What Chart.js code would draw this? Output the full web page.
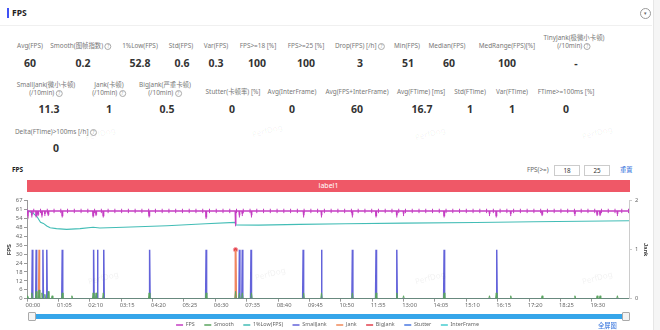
<!DOCTYPE html>
<html><head><meta charset="utf-8">
<script src="https://cdn.jsdelivr.net/npm/chart.js@4.4.1/dist/chart.umd.min.js"></script>
<style>
html,body{margin:0;padding:0;background:#fff;width:660px;height:330px;overflow:hidden;font-family:"Noto Sans","Noto Sans CJK SC",sans-serif;}
#page{position:relative;width:660px;height:330px;}
.abs{position:absolute;white-space:nowrap;}
.lb{position:absolute;transform:translate(-50%,-50%);font-size:6.4px;color:#777;white-space:nowrap;text-align:center;line-height:8px;}
.vl{position:absolute;transform:translate(-50%,-50%);font-size:10.5px;font-weight:bold;color:#333;white-space:nowrap;}
.q{display:inline-block;width:5px;height:5px;border:0.8px solid #aaa;border-radius:50%;font-size:4.5px;line-height:5px;text-align:center;color:#999;vertical-align:middle;margin-left:1.5px;}
.wm{position:absolute;font-size:8px;color:rgba(0,0,0,0.06);transform:translate(-50%,-50%) rotate(-15deg);white-space:nowrap;}
#cv{position:absolute;left:0;top:193px;}
</style></head>
<body><div id="page">
  <!-- header -->
  <div class="abs" style="left:7px;top:8px;width:1.6px;height:10px;background:#3f51f5;"></div>
  <div class="abs" style="left:12px;top:7px;font-size:8.5px;font-weight:bold;color:#222;line-height:12px;">FPS</div>
  <div class="abs" style="left:640px;top:8px;width:9px;height:9px;border:0.8px solid #999;border-radius:50%;font-size:5px;line-height:9px;text-align:center;color:#666;">▾</div>
  <div class="abs" style="left:0;top:25px;width:652px;height:1px;background:#f0f0f0;"></div>
  <div class="abs" style="left:653px;top:0;width:7px;height:330px;background:#f5f5f5;border-left:1px solid #e6e6e6;"></div>

  <!-- stats row 1 -->
  <div class="lb" style="left:30px;top:46px;">Avg(FPS)</div><div class="vl" style="left:30px;top:63px;">60</div>
  <div class="lb" style="left:81px;top:46px;">Smooth(图帧指数)<span class="q">?</span></div><div class="vl" style="left:83px;top:63px;">0.2</div>
  <div class="lb" style="left:140px;top:46px;">1%Low(FPS)</div><div class="vl" style="left:140px;top:63px;">52.8</div>
  <div class="lb" style="left:181px;top:46px;">Std(FPS)</div><div class="vl" style="left:182px;top:63px;">0.6</div>
  <div class="lb" style="left:216px;top:46px;">Var(FPS)</div><div class="vl" style="left:216px;top:63px;">0.3</div>
  <div class="lb" style="left:258px;top:46px;">FPS&gt;=18 [%]</div><div class="vl" style="left:257px;top:63px;">100</div>
  <div class="lb" style="left:306px;top:46px;">FPS&gt;=25 [%]</div><div class="vl" style="left:306px;top:63px;">100</div>
  <div class="lb" style="left:360px;top:46px;">Drop(FPS) [/h]<span class="q">?</span></div><div class="vl" style="left:360px;top:63px;">3</div>
  <div class="lb" style="left:407px;top:46px;">Min(FPS)</div><div class="vl" style="left:408px;top:63px;">51</div>
  <div class="lb" style="left:447px;top:46px;">Median(FPS)</div><div class="vl" style="left:449px;top:63px;">60</div>
  <div class="lb" style="left:507px;top:46px;">MedRange(FPS)[%]</div><div class="vl" style="left:507px;top:63px;">100</div>
  <div class="lb" style="left:574px;top:42px;">TinyJank(极微小卡顿)<br>(/10min)<span class="q">?</span></div><div class="vl" style="left:576px;top:63px;">-</div>

  <!-- stats row 2 -->
  <div class="lb" style="left:46px;top:89px;">SmallJank(微小卡顿)<br>(/10min)<span class="q">?</span></div><div class="vl" style="left:49px;top:109px;">11.3</div>
  <div class="lb" style="left:109px;top:89px;">Jank(卡顿)<br>(/10min)<span class="q">?</span></div><div class="vl" style="left:109px;top:109px;">1</div>
  <div class="lb" style="left:165px;top:89px;">BigJank(严重卡顿)<br>(/10min)<span class="q">?</span></div><div class="vl" style="left:167px;top:109px;">0.5</div>
  <div class="lb" style="left:233px;top:92px;">Stutter(卡顿率) [%]</div><div class="vl" style="left:232px;top:109px;">0</div>
  <div class="lb" style="left:292px;top:92px;">Avg(InterFrame)</div><div class="vl" style="left:292px;top:109px;">0</div>
  <div class="lb" style="left:357px;top:92px;">Avg(FPS+InterFrame)</div><div class="vl" style="left:357px;top:109px;">60</div>
  <div class="lb" style="left:421px;top:92px;">Avg(FTime) [ms]</div><div class="vl" style="left:422px;top:109px;">16.7</div>
  <div class="lb" style="left:470px;top:92px;">Std(FTime)</div><div class="vl" style="left:470px;top:109px;">1</div>
  <div class="lb" style="left:512px;top:92px;">Var(FTime)</div><div class="vl" style="left:512px;top:109px;">1</div>
  <div class="lb" style="left:566px;top:92px;">FTime&gt;=100ms [%]</div><div class="vl" style="left:566px;top:109px;">0</div>

  <!-- stats row 3 -->
  <div class="lb" style="left:56px;top:132px;">Delta(FTime)&gt;100ms [/h]<span class="q">?</span></div><div class="vl" style="left:56px;top:148px;">0</div>

  <!-- watermarks -->
  <div class="wm" style="left:100px;top:133px;">PerfDog</div>
  <div class="wm" style="left:267px;top:130px;">PerfDog</div>
  <div class="wm" style="left:430px;top:133px;">PerfDog</div>
  <div class="wm" style="left:597px;top:132px;">PerfDog</div>

  <!-- chart header -->
  <div class="abs" style="left:12px;top:165px;font-size:6.5px;font-weight:bold;color:#222;line-height:9px;">FPS</div>
  <div class="abs" style="left:527px;top:166px;font-size:6.3px;color:#666;line-height:8px;">FPS(&gt;=)</div>
  <div class="abs" style="left:554px;top:165px;width:24px;height:9px;border:0.8px solid #ccc;font-size:6.3px;color:#333;line-height:9px;text-align:center;">18</div>
  <div class="abs" style="left:584px;top:165px;width:24px;height:9px;border:0.8px solid #ccc;font-size:6.3px;color:#333;line-height:9px;text-align:center;">25</div>
  <div class="abs" style="left:620px;top:166px;font-size:6.3px;color:#2f6fdc;line-height:8px;">重置</div>
  <div class="abs" style="left:27px;top:180px;width:603px;height:12px;background:#ef5867;color:#fff;font-size:7px;line-height:12px;text-align:center;">label1</div>

  <canvas id="cv" width="660" height="137"></canvas>

  <div class="wm" style="left:103px;top:277px;">PerfDog</div>
  <div class="wm" style="left:270px;top:273px;">PerfDog</div>
  <div class="wm" style="left:430px;top:277px;">PerfDog</div>
  <div class="wm" style="left:597px;top:277px;">PerfDog</div>

  <!-- slider -->
  <div class="abs" style="left:35px;top:314px;width:587px;height:5px;background:#36a6ea;"></div>
  <div class="abs" style="left:28px;top:312px;width:6px;height:7px;background:#f4f4f4;border:0.8px solid #aaa;border-radius:1px;"></div>
  <div class="abs" style="left:622px;top:312px;width:6px;height:7px;background:#f4f4f4;border:0.8px solid #aaa;border-radius:1px;"></div>
  <div class="abs" style="left:598px;top:322px;font-size:6.3px;color:#2f6fdc;line-height:8px;">全屏图</div>
</div>
<script>
// ---- data ----
const DURATION = 1247; // seconds
const xTickLabels = ['00:00','01:05','02:10','03:15','04:20','05:25','06:30','07:35','08:40','09:45','10:50','11:55','13:00','14:05','15:10','16:15','17:20','18:25','19:30'];
const yTickLabels = ['0','6','12','18','24','30','36','42','48','54','61','67'];
const yMax = 67;
const jankTickLabels = ['0','1','2'];

// FPS sampled every 14 s (markers), plus short dips
const fpsSampleStep = 14;
const fpsSamples = [60,60,60,60,60,60,60,60,60,60, 60,60,60,60,60,60,60,60,60,60,
                    60,60,60,60,60,60,60,60,60,60, 60,60,60,60,60,60,60,60,60,60,
                    60,60,60,60,60,60,60,60,60,60, 60,60,60,60,60,60,60,60,60,60,
                    60,60,60,60,60,60,60,60,60,60, 60,60,60,60,60,60,60,60,60,60,
                    60,60,60,60,60,60,60,60,60,60];
const fpsDips = [[2,58],[10,57],[19,57],[23,58],[31,57],[37,58],[44,58],[73,57],[137,57],[143,58],[158,57],
                 [253,57],[371,56],[432,51],[440,57],[446,58],[465,57],[573,57],[610,57],[674,57],[723,57],
                 [766,57],[780,58],[864,57],[958,58],[972,57],[1002,58],[1067,58],[1135,58],[1181,58],[1187,58],[1223,58]];
const lowFps = [[0,60.3],[13,58.3],[21,56],[25,53.8],[28,52.2],[34,51.5],[41,49.7],[48,48.5],[61,47.9],[82,47.4],
                [110,47.9],[137,48.8],[151,48.3],[200,48.8],[290,49.9],[370,51.2],[431,52.2],[433,50.4],[480,50.3],
                [565,50.8],[660,51.2],[780,51.7],[930,52.1],[1050,52.6],[1247,53.3]];
const smoothEvents = [[2,2],[10,4],[19,5],[25,6],[31,4],[37,3],[44,5],[52,2],[73,4],[93,2],[137,4],[143,4],[158,4],
                      [253,4],[371,4],[432,5],[440,4],[446,4],[465,4],[573,4],[610,4],[674,4],[723,4],[766,4],
                      [780,2],[864,4],[958,2],[972,4],[1002,2],[1067,2],[1135,2],[1181,2],[1187,2],[1223,2]];
const smallJankTimes = [11,19,33,41,73,138,146,159,254,371,440,446,464,572,610,674,723,766,864,973];
const jankTimes = [25,432];
const bigJankTimes = [432];
const stutterTimes = [];
const interFrameTimes = [];

// ---- build series ----
function toSec(lbl){ const p = lbl.split(':'); return (+p[0])*60 + (+p[1]); }
const xTickSeconds = xTickLabels.map(toSec);

function buildFps(){
  const pts = fpsSamples.map((v,i)=>({x:i*fpsSampleStep, y:v, m:true}));
  fpsDips.forEach(([t,v])=>{
    const base = fpsSamples[Math.min(fpsSamples.length-1, Math.round(t/fpsSampleStep))];
    pts.push({x:t-0.6, y:base, m:false},{x:t, y:v, m:true},{x:t+0.6, y:base, m:false});
  });
  pts.sort((a,b)=>a.x-b.x);
  return pts;
}
function buildSpikes(events, half){
  const pts=[{x:0,y:0}];
  events.forEach(([t,v])=>{ pts.push({x:t-half,y:0},{x:t,y:v},{x:t+half,y:0}); });
  pts.push({x:DURATION,y:0});
  return pts;
}
const ones = ts => ts.map(t=>[t,1]);

const LEGEND_H = 17.25;
const legendFit = {
  id:'legendFit',
  beforeLayout(chart){
    const lg = chart.legend;
    if (lg && !lg.__fixed){
      const orig = lg.fit;
      lg.fit = function(){ orig.call(this); this.height = LEGEND_H; this._minSize && (this._minSize.height = LEGEND_H); };
      lg.__fixed = true;
    }
  }
};

const tickFont = {size:5.8, family:'"Noto Sans","Noto Sans CJK SC",sans-serif'};
const common = {fill:false, tension:0, pointRadius:0, borderWidth:1.3};

new Chart(document.getElementById('cv'), {
  type:'line',
  data:{ datasets:[
    {label:'FPS', data:buildFps(), borderColor:'#c53ec3', backgroundColor:'#c53ec3', borderWidth:1.6, fill:false, tension:0,
      pointStyle:'line', rotation:90, pointBorderColor:'#c53ec3', pointBorderWidth:1,
      pointRadius: c => (c.raw && c.raw.m) ? 2.2 : 0, yAxisID:'y'},
    {label:'Smooth', data:buildSpikes(smoothEvents,1.5), borderColor:'#5aa55f', backgroundColor:'#5aa55f', yAxisID:'y', ...common, borderWidth:1},
    {label:'1%Low(FPS)', data:lowFps.map(([x,y])=>({x,y})), borderColor:'#43bdb6', backgroundColor:'#43bdb6', yAxisID:'y', ...common, borderWidth:1.1},
    {label:'SmallJank', data:buildSpikes(ones(smallJankTimes),1), borderColor:'rgba(82,82,214,0.9)', backgroundColor:'#4f4fd0', yAxisID:'y2', ...common, borderWidth:1.5},
    {label:'Jank', data:buildSpikes(ones(jankTimes),1), borderColor:'#f08a5a', backgroundColor:'#f08a5a', yAxisID:'y2', ...common, borderWidth:1.5},
    {label:'BigJank', data:buildSpikes(ones(bigJankTimes),1), borderColor:'#e2404d', backgroundColor:'#e2404d', yAxisID:'y2', ...common, borderWidth:1.5,
      pointRadius: c => (c.raw && c.raw.y>0) ? 2.2 : 0, pointBackgroundColor:'#e2404d', pointBorderColor:'#f7a0a8', pointBorderWidth:1},
    {label:'Stutter', data:buildSpikes(ones(stutterTimes),1), borderColor:'#4a78e2', backgroundColor:'#4a78e2', yAxisID:'y2', ...common},
    {label:'InterFrame', data:buildSpikes(ones(interFrameTimes),1), borderColor:'#47ccd0', backgroundColor:'#47ccd0', yAxisID:'y', ...common},
  ]},
  options:{
    responsive:false, animation:false, devicePixelRatio:1, events:[],
    layout:{padding:{top:7.7, left:0, right:5, bottom:0}},
    scales:{
      x:{type:'linear', min:0, max:DURATION,
        afterBuildTicks: s => { s.ticks = xTickSeconds.map(v=>({value:v})); },
        afterFit: s => { s.height = 14.05; },
        ticks:{autoSkip:false, maxRotation:0, font:tickFont, color:'#666', padding:0, labelOffset:6,
          callback:(v,i)=>xTickLabels[i]},
        grid:{drawOnChartArea:false, drawTicks:true, tickLength:3, color:'#999'},
        border:{display:true, color:'#999', width:1}},
      y:{position:'left', min:0, max:yMax,
        afterBuildTicks: s => { s.ticks = yTickLabels.map((_,i)=>({value:i*yMax/(yTickLabels.length-1)})); },
        afterFit: s => { s.width = 27; },
        ticks:{autoSkip:false, font:tickFont, color:'#666', padding:1.5, callback:(v,i)=>yTickLabels[i]},
        grid:{drawOnChartArea:false, drawTicks:true, tickLength:3, color:'#999'},
        border:{display:true, color:'#999', width:1},
        title:{display:true, text:'FPS', color:'#333', font:{size:5.8, weight:'bold'}, padding:{top:6, bottom:0}}},
      y2:{position:'right', min:0, max:2,
        afterBuildTicks: s => { s.ticks = jankTickLabels.map(v=>({value:+v})); },
        afterFit: s => { s.width = 26; },
        ticks:{autoSkip:false, font:tickFont, color:'#666', padding:3, callback:(v,i)=>jankTickLabels[i]},
        grid:{drawOnChartArea:false, drawTicks:true, tickLength:3, color:'#ccc'},
        border:{display:true, color:'#ccc', width:1},
        title:{display:true, text:'Jank', color:'#333', font:{size:5.8, weight:'bold'}, padding:{top:6, bottom:0}}}
    },
    plugins:{
      tooltip:{enabled:false},
      legend:{position:'bottom', align:'center',
        labels:{usePointStyle:true, pointStyle:'line', pointStyleWidth:7, padding:9.5, color:'#666',
          font:{size:5.4, family:'"Noto Sans","Noto Sans CJK SC",sans-serif'},
          generateLabels(chart){
            const items = Chart.defaults.plugins.legend.labels.generateLabels(chart);
            items.forEach(it=>{
              const ds = chart.data.datasets[it.datasetIndex];
              it.rotation = 0; it.pointStyle = 'line'; it.lineWidth = 1.5;
              it.strokeStyle = ds.borderColor; it.fillStyle = ds.backgroundColor;
            });
            return items;
          }}}
    }
  },
  plugins:[legendFit]
});
</script>
</body></html>
